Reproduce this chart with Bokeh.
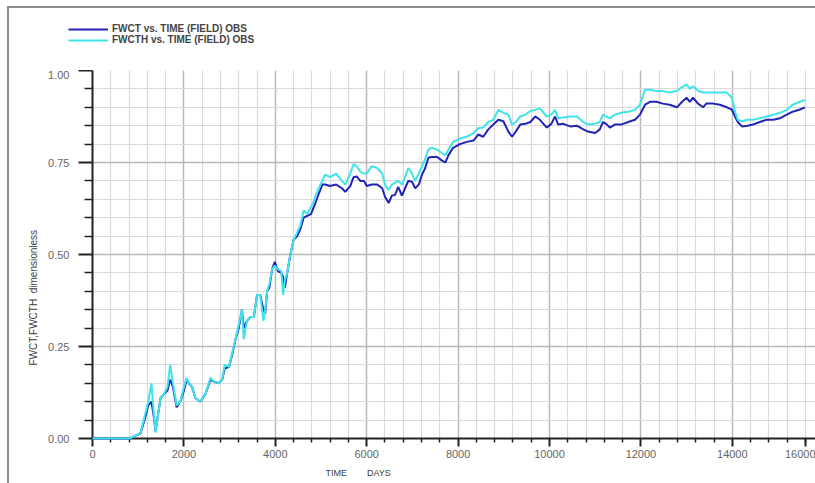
from bokeh.plotting import figure
from bokeh.layouts import column
from bokeh.models import FixedTicker, Legend, LegendItem, Range1d, Title
from bokeh.embed import file_html
from bokeh.resources import INLINE

# Observed field water cut history (days vs. fraction)
days = [0, 400, 800, 900, 1050, 1160, 1220, 1290, 1340, 1380, 1440, 1490, 1560, 1640, 1700,
        1760, 1840, 1920, 2000, 2060, 2110, 2180, 2250, 2360, 2470, 2580, 2650, 2760, 2840,
        2890, 2990, 3060, 3130, 3200, 3270, 3310, 3380, 3460, 3530, 3600, 3670, 3740, 3780,
        3820, 3870, 3930, 3990, 4060, 4130, 4170, 4210, 4260, 4330, 4400, 4480, 4550, 4620,
        4700, 4780, 4830, 4880, 4950, 5030, 5090, 5200, 5330, 5460, 5530, 5640, 5710, 5780,
        5860, 5940, 6000, 6110, 6230, 6340, 6400, 6480, 6550, 6620, 6690, 6770, 6840, 6910,
        6990, 7060, 7140, 7210, 7280, 7350, 7420, 7540, 7650, 7720, 7790, 7890, 8040, 8190,
        8340, 8440, 8550, 8660, 8770, 8880, 8990, 9100, 9180, 9260, 9360, 9470, 9580, 9690,
        9790, 9940, 10040, 10120, 10190, 10300, 10450, 10600, 10740, 10840, 11000, 11100,
        11170, 11240, 11320, 11430, 11570, 11720, 11870, 11980, 12090, 12200, 12340, 12480,
        12630, 12790, 12900, 13000, 13070, 13140, 13250, 13360, 13430, 13580, 13730, 13880,
        13990, 14060, 14120, 14210, 14330, 14450, 14600, 14750, 14900, 15040, 15190, 15320,
        15480, 15590]

fwct = [0, 0, 0, 0.005, 0.014, 0.06, 0.09, 0.10, 0.06, 0.02, 0.07, 0.11, 0.12, 0.13, 0.16,
        0.14, 0.085, 0.10, 0.13, 0.16, 0.15, 0.14, 0.11, 0.10, 0.12, 0.16, 0.155, 0.15, 0.16,
        0.19, 0.195, 0.23, 0.27, 0.30, 0.35, 0.30, 0.32, 0.33, 0.33, 0.39, 0.39, 0.35, 0.34,
        0.40, 0.41, 0.46, 0.48, 0.455, 0.45, 0.44, 0.41, 0.45, 0.50, 0.54, 0.55, 0.57, 0.60,
        0.605, 0.61, 0.625, 0.64, 0.665, 0.69, 0.69, 0.686, 0.69, 0.68, 0.67, 0.686, 0.71, 0.712,
        0.70, 0.70, 0.686, 0.69, 0.69, 0.68, 0.657, 0.64, 0.66, 0.662, 0.684, 0.66, 0.68, 0.70,
        0.698, 0.68, 0.69, 0.717, 0.735, 0.763, 0.765, 0.765, 0.755, 0.75, 0.77, 0.79, 0.80, 0.806,
        0.81, 0.826, 0.82, 0.84, 0.853, 0.866, 0.862, 0.834, 0.82, 0.834, 0.853, 0.855, 0.86, 0.875,
        0.866, 0.845, 0.855, 0.875, 0.853, 0.855, 0.848, 0.85, 0.84, 0.834, 0.83, 0.84,
        0.86, 0.855, 0.845, 0.853, 0.853, 0.86, 0.866, 0.88, 0.907, 0.915, 0.915, 0.91,
        0.907, 0.90, 0.915, 0.926, 0.915, 0.926, 0.91, 0.90, 0.91, 0.91, 0.907, 0.90,
        0.894, 0.875, 0.86, 0.848, 0.85, 0.853, 0.86, 0.866, 0.866, 0.87, 0.88, 0.888,
        0.894, 0.90]

fwcth = [0, 0, 0, 0.005, 0.015, 0.07, 0.10, 0.15, 0.07, 0.016, 0.07, 0.11, 0.12, 0.14, 0.20,
         0.15, 0.09, 0.10, 0.14, 0.165, 0.15, 0.14, 0.11, 0.10, 0.12, 0.165, 0.155, 0.15, 0.16,
         0.20, 0.195, 0.235, 0.27, 0.31, 0.35, 0.27, 0.32, 0.33, 0.33, 0.39, 0.39, 0.32, 0.35,
         0.40, 0.42, 0.46, 0.47, 0.46, 0.455, 0.39, 0.43, 0.45, 0.50, 0.54, 0.56, 0.58, 0.62,
         0.61, 0.63, 0.64, 0.66, 0.68, 0.70, 0.717, 0.71, 0.72, 0.70, 0.69, 0.72, 0.745, 0.74,
         0.725, 0.72, 0.72, 0.74, 0.735, 0.72, 0.69, 0.675, 0.69, 0.695, 0.70, 0.69, 0.71, 0.735,
         0.72, 0.70, 0.72, 0.74, 0.76, 0.785, 0.79, 0.785, 0.775, 0.77, 0.785, 0.806, 0.815, 0.82,
         0.83, 0.843, 0.845, 0.86, 0.866, 0.893, 0.885, 0.88, 0.853, 0.86, 0.875, 0.88, 0.89, 0.893,
         0.897, 0.875, 0.88, 0.893, 0.87, 0.872, 0.875, 0.875, 0.86, 0.853, 0.855, 0.86,
         0.88, 0.875, 0.87, 0.88, 0.885, 0.888, 0.893, 0.907, 0.948, 0.948, 0.944, 0.944,
         0.94, 0.945, 0.955, 0.962, 0.95, 0.957, 0.945, 0.94, 0.94, 0.94, 0.94, 0.94,
         0.926, 0.888, 0.866, 0.862, 0.866, 0.866, 0.87, 0.875, 0.88, 0.885, 0.893, 0.907,
         0.915, 0.92]

x_major = [0, 2000, 4000, 6000, 8000, 10000, 12000, 14000]
x_minor = [400, 800, 1200, 1600, 2400, 2800, 3200, 3600, 4400, 4800, 5200, 5600,
           6400, 6800, 7200, 7600, 8400, 8800, 9200, 9600, 10400, 10800, 11200, 11600,
           12400, 12800, 13200, 13600, 14400, 14800, 15200, 15600]
x_labels = {0: "0", 2000: "2000", 4000: "4000", 6000: "6000", 8000: "8000",
            10000: "10000", 12000: "12000", 14000: "14000"}
# the 16000 label is pulled inside the visible edge of the axis
edge_tick, edge_label = 15600, "16000"
y_major = [0.0, 0.25, 0.5, 0.75, 1.0]
y_minor = [0.05, 0.10, 0.15, 0.20, 0.30, 0.35, 0.40, 0.45, 0.55, 0.60, 0.65, 0.70,
           0.80, 0.85, 0.90, 0.95]

series_names = ["FWCT vs. TIME (FIELD) OBS", "FWCTH vs. TIME (FIELD) OBS"]
NBSP = "\u00a0"
x_title = "TIME" + NBSP * 8 + "DAYS"
y_title = "FWCT,FWCTH" + NBSP * 2 + "dimensionless"

BLUE = "#2323b8"
CYAN = "#3ee4ea"
LABEL_FONT = "Liberation Sans"

# ---- key strip above the plot ----
key = figure(width=806, height=62, output_backend="svg", toolbar_location=None,
             x_range=Range1d(-2, -1), y_range=Range1d(-2, -1),
             x_axis_location=None, y_axis_location=None,
             min_border_left=0, min_border_right=0, min_border_top=0, min_border_bottom=0)
key.frame_align = False
key.outline_line_color = None
key.xgrid.visible = False
key.ygrid.visible = False
# same series, kept out of this strip's view; only their legend samples show
k_blue = key.line(days, fwct, line_color=BLUE, line_width=2)
k_cyan = key.line(days, fwcth, line_color=CYAN, line_width=2)
legend = Legend(items=[LegendItem(label=series_names[0], renderers=[k_blue]),
                       LegendItem(label=series_names[1], renderers=[k_cyan])],
                location=(59, 25), orientation="vertical",
                glyph_width=40, glyph_height=10, label_height=10, spacing=0,
                label_standoff=4, padding=0, margin=0,
                border_line_color=None, background_fill_alpha=0,
                label_text_font=LABEL_FONT, label_text_font_size="10px",
                label_text_font_style="bold", label_text_color="#444444")
key.add_layout(legend)

# ---- main plot ----
p = figure(width=806, height=413, output_backend="svg", toolbar_location=None,
           x_range=Range1d(0, 15820), y_range=Range1d(0, 1.0),
           min_border_left=83, min_border_top=0, min_border_bottom=45, min_border_right=0)
p.frame_align = False
p.outline_line_color = None
p.background_fill_color = "white"
p.border_fill_color = "white"

p.xaxis.ticker = FixedTicker(ticks=x_major + [edge_tick], minor_ticks=x_minor)
labels = dict(x_labels)
labels[edge_tick] = edge_label
p.xaxis.major_label_overrides = labels
p.yaxis.ticker = FixedTicker(ticks=y_major, minor_ticks=y_minor)
p.yaxis.major_label_overrides = {0: "0.00", 0.25: "0.25", 0.5: "0.50", 0.75: "0.75", 1: "1.00"}
p.xgrid.ticker = FixedTicker(ticks=x_major, minor_ticks=x_minor)
p.ygrid.ticker = FixedTicker(ticks=y_major, minor_ticks=y_minor)

for ax in (p.xaxis, p.yaxis):
    ax.axis_line_color = "#222222"
    ax.axis_line_width = 2
    ax.major_tick_line_color = "#222222"
    ax.major_tick_line_width = 2
    ax.minor_tick_line_color = "#222222"
    ax.minor_tick_line_width = 1.5
    ax.major_tick_in = 0
    ax.minor_tick_in = 0
    ax.major_label_text_font = LABEL_FONT
    ax.major_label_text_font_size = "11px"
    ax.major_label_text_color = "#666666"

p.xaxis.major_tick_out = 8
p.xaxis.minor_tick_out = 4
p.xaxis.major_label_standoff = 3
p.yaxis.major_tick_out = 14
p.yaxis.minor_tick_out = 8
p.yaxis.major_label_standoff = 9

p.xgrid.grid_line_color = "#b8b8b8"
p.ygrid.grid_line_color = "#b8b8b8"
p.xgrid.grid_line_width = 1.5
p.ygrid.grid_line_width = 1.5
p.xgrid.minor_grid_line_color = "#dadada"
p.ygrid.minor_grid_line_color = "#dadada"
p.xgrid.minor_grid_line_width = 1.2
p.ygrid.minor_grid_line_width = 1.2

p.line(days, fwct, line_color=BLUE, line_width=2, level="overlay")
p.line(days, fwcth, line_color=CYAN, line_width=2, level="overlay")

p.add_layout(Title(text=x_title, align="left", offset=233, standoff=11,
                   text_font=LABEL_FONT, text_font_size="9px", text_font_style="normal",
                   text_color="#404040"), "below")
p.add_layout(Title(text=y_title, align="left", offset=73, standoff=14,
                   text_font=LABEL_FONT, text_font_size="10px", text_font_style="normal",
                   text_color="#404040"), "left")

page = column(key, p, spacing=0)
page.margin = (6, 0, 0, 7)
page.styles = {"border-left": "2px solid #8e8e8e", "border-top": "2px solid #8e8e8e"}

open("out.html", "w").write(file_html(page, INLINE))
